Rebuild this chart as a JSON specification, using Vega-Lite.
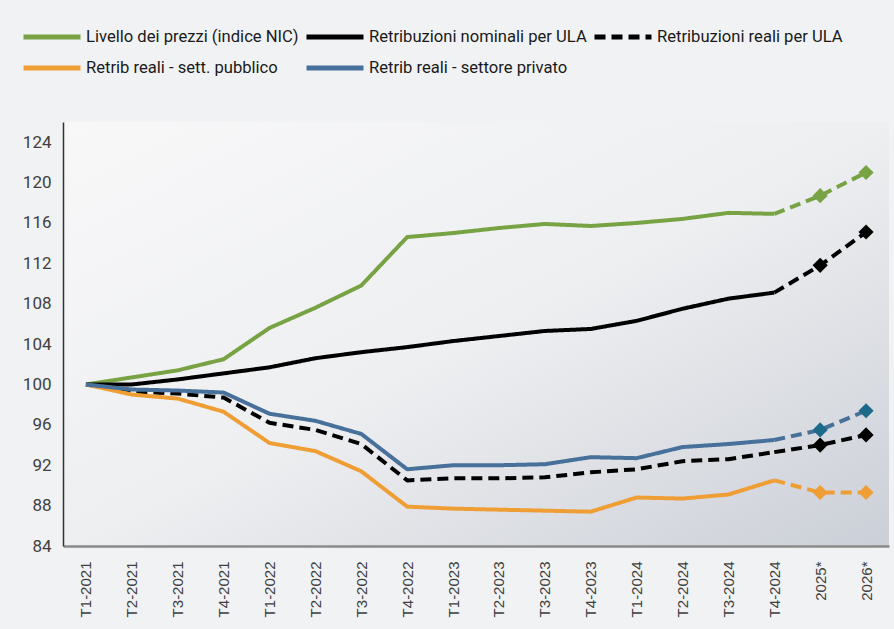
{
  "$schema": "https://vega.github.io/schema/vega-lite/v6.json",
  "width": 826,
  "height": 424,
  "autosize": {"type": "none"},
  "padding": {"left": 63, "top": 122, "right": 5, "bottom": 83},
  "background": "#f1f2f4",
  "config": {
    "view": {
      "stroke": null,
      "fill": {"gradient": "linear", "x1": 0, "y1": 0, "x2": 1, "y2": 1,
        "stops": [{"offset": 0, "color": "#f8f8f9"}, {"offset": 0.5, "color": "#eeeff1"}, {"offset": 1, "color": "#cbcfd7"}]}
    },
    "font": "Liberation Sans"
  },
  "data": {"values": [
    {"q":"T1-2021","s":"Livello dei prezzi (indice NIC)","v":100},
    {"q":"T2-2021","s":"Livello dei prezzi (indice NIC)","v":100.7},
    {"q":"T3-2021","s":"Livello dei prezzi (indice NIC)","v":101.4},
    {"q":"T4-2021","s":"Livello dei prezzi (indice NIC)","v":102.5},
    {"q":"T1-2022","s":"Livello dei prezzi (indice NIC)","v":105.6},
    {"q":"T2-2022","s":"Livello dei prezzi (indice NIC)","v":107.6},
    {"q":"T3-2022","s":"Livello dei prezzi (indice NIC)","v":109.8},
    {"q":"T4-2022","s":"Livello dei prezzi (indice NIC)","v":114.6},
    {"q":"T1-2023","s":"Livello dei prezzi (indice NIC)","v":115.0},
    {"q":"T2-2023","s":"Livello dei prezzi (indice NIC)","v":115.5},
    {"q":"T3-2023","s":"Livello dei prezzi (indice NIC)","v":115.9},
    {"q":"T4-2023","s":"Livello dei prezzi (indice NIC)","v":115.7},
    {"q":"T1-2024","s":"Livello dei prezzi (indice NIC)","v":116.0},
    {"q":"T2-2024","s":"Livello dei prezzi (indice NIC)","v":116.4},
    {"q":"T3-2024","s":"Livello dei prezzi (indice NIC)","v":117.0},
    {"q":"T4-2024","s":"Livello dei prezzi (indice NIC)","v":116.9},
    {"q":"2025*","s":"Livello dei prezzi (indice NIC)","v":118.7},
    {"q":"2026*","s":"Livello dei prezzi (indice NIC)","v":121.0},
    {"q":"T1-2021","s":"Retribuzioni nominali per ULA","v":100},
    {"q":"T2-2021","s":"Retribuzioni nominali per ULA","v":100.0},
    {"q":"T3-2021","s":"Retribuzioni nominali per ULA","v":100.5},
    {"q":"T4-2021","s":"Retribuzioni nominali per ULA","v":101.1},
    {"q":"T1-2022","s":"Retribuzioni nominali per ULA","v":101.7},
    {"q":"T2-2022","s":"Retribuzioni nominali per ULA","v":102.6},
    {"q":"T3-2022","s":"Retribuzioni nominali per ULA","v":103.2},
    {"q":"T4-2022","s":"Retribuzioni nominali per ULA","v":103.7},
    {"q":"T1-2023","s":"Retribuzioni nominali per ULA","v":104.3},
    {"q":"T2-2023","s":"Retribuzioni nominali per ULA","v":104.8},
    {"q":"T3-2023","s":"Retribuzioni nominali per ULA","v":105.3},
    {"q":"T4-2023","s":"Retribuzioni nominali per ULA","v":105.5},
    {"q":"T1-2024","s":"Retribuzioni nominali per ULA","v":106.3},
    {"q":"T2-2024","s":"Retribuzioni nominali per ULA","v":107.5},
    {"q":"T3-2024","s":"Retribuzioni nominali per ULA","v":108.5},
    {"q":"T4-2024","s":"Retribuzioni nominali per ULA","v":109.1},
    {"q":"2025*","s":"Retribuzioni nominali per ULA","v":111.8},
    {"q":"2026*","s":"Retribuzioni nominali per ULA","v":115.1},
    {"q":"T1-2021","s":"Retribuzioni reali per ULA","v":100},
    {"q":"T2-2021","s":"Retribuzioni reali per ULA","v":99.3},
    {"q":"T3-2021","s":"Retribuzioni reali per ULA","v":99.1},
    {"q":"T4-2021","s":"Retribuzioni reali per ULA","v":98.7},
    {"q":"T1-2022","s":"Retribuzioni reali per ULA","v":96.2},
    {"q":"T2-2022","s":"Retribuzioni reali per ULA","v":95.5},
    {"q":"T3-2022","s":"Retribuzioni reali per ULA","v":94.1},
    {"q":"T4-2022","s":"Retribuzioni reali per ULA","v":90.5},
    {"q":"T1-2023","s":"Retribuzioni reali per ULA","v":90.7},
    {"q":"T2-2023","s":"Retribuzioni reali per ULA","v":90.7},
    {"q":"T3-2023","s":"Retribuzioni reali per ULA","v":90.8},
    {"q":"T4-2023","s":"Retribuzioni reali per ULA","v":91.3},
    {"q":"T1-2024","s":"Retribuzioni reali per ULA","v":91.6},
    {"q":"T2-2024","s":"Retribuzioni reali per ULA","v":92.4},
    {"q":"T3-2024","s":"Retribuzioni reali per ULA","v":92.6},
    {"q":"T4-2024","s":"Retribuzioni reali per ULA","v":93.3},
    {"q":"2025*","s":"Retribuzioni reali per ULA","v":94.0},
    {"q":"2026*","s":"Retribuzioni reali per ULA","v":95.0},
    {"q":"T1-2021","s":"Retrib reali - sett. pubblico","v":100},
    {"q":"T2-2021","s":"Retrib reali - sett. pubblico","v":99.0},
    {"q":"T3-2021","s":"Retrib reali - sett. pubblico","v":98.6},
    {"q":"T4-2021","s":"Retrib reali - sett. pubblico","v":97.3},
    {"q":"T1-2022","s":"Retrib reali - sett. pubblico","v":94.2},
    {"q":"T2-2022","s":"Retrib reali - sett. pubblico","v":93.4},
    {"q":"T3-2022","s":"Retrib reali - sett. pubblico","v":91.4},
    {"q":"T4-2022","s":"Retrib reali - sett. pubblico","v":87.9},
    {"q":"T1-2023","s":"Retrib reali - sett. pubblico","v":87.7},
    {"q":"T2-2023","s":"Retrib reali - sett. pubblico","v":87.6},
    {"q":"T3-2023","s":"Retrib reali - sett. pubblico","v":87.5},
    {"q":"T4-2023","s":"Retrib reali - sett. pubblico","v":87.4},
    {"q":"T1-2024","s":"Retrib reali - sett. pubblico","v":88.8},
    {"q":"T2-2024","s":"Retrib reali - sett. pubblico","v":88.7},
    {"q":"T3-2024","s":"Retrib reali - sett. pubblico","v":89.1},
    {"q":"T4-2024","s":"Retrib reali - sett. pubblico","v":90.5},
    {"q":"2025*","s":"Retrib reali - sett. pubblico","v":89.3},
    {"q":"2026*","s":"Retrib reali - sett. pubblico","v":89.3},
    {"q":"T1-2021","s":"Retrib reali - settore privato","v":100},
    {"q":"T2-2021","s":"Retrib reali - settore privato","v":99.5},
    {"q":"T3-2021","s":"Retrib reali - settore privato","v":99.4},
    {"q":"T4-2021","s":"Retrib reali - settore privato","v":99.2},
    {"q":"T1-2022","s":"Retrib reali - settore privato","v":97.1},
    {"q":"T2-2022","s":"Retrib reali - settore privato","v":96.4},
    {"q":"T3-2022","s":"Retrib reali - settore privato","v":95.1},
    {"q":"T4-2022","s":"Retrib reali - settore privato","v":91.6},
    {"q":"T1-2023","s":"Retrib reali - settore privato","v":92.0},
    {"q":"T2-2023","s":"Retrib reali - settore privato","v":92.0},
    {"q":"T3-2023","s":"Retrib reali - settore privato","v":92.1},
    {"q":"T4-2023","s":"Retrib reali - settore privato","v":92.8},
    {"q":"T1-2024","s":"Retrib reali - settore privato","v":92.7},
    {"q":"T2-2024","s":"Retrib reali - settore privato","v":93.8},
    {"q":"T3-2024","s":"Retrib reali - settore privato","v":94.1},
    {"q":"T4-2024","s":"Retrib reali - settore privato","v":94.5},
    {"q":"2025*","s":"Retrib reali - settore privato","v":95.5},
    {"q":"2026*","s":"Retrib reali - settore privato","v":97.4}
  ]},
  "encoding": {
    "x": {
      "field": "q", "type": "nominal",
      "scale": {"type": "point", "padding": 0.5,
        "domain": ["T1-2021","T2-2021","T3-2021","T4-2021","T1-2022","T2-2022","T3-2022","T4-2022","T1-2023","T2-2023","T3-2023","T4-2023","T1-2024","T2-2024","T3-2024","T4-2024","2025*","2026*"]},
      "axis": {"title": null, "labelAngle": -90, "ticks": false, "domainColor": "#8a8a8a", "domainWidth": 2.5,
        "labelPadding": 15, "labelFontSize": 15, "labelColor": "#3f3f3f", "labelFont": "Liberation Sans", "grid": false}
    },
    "y": {
      "field": "v", "type": "quantitative",
      "scale": {"domain": [84, 126], "nice": false, "zero": false},
      "axis": {"title": null, "values": [84,88,92,96,100,104,108,112,116,120,124], "ticks": false, "grid": false,
        "domainColor": "#333333", "domainWidth": 1.5, "labelPadding": 12, "labelFontSize": 17,
        "labelColor": "#404040", "labelFont": "Roboto"}
    }
  },
  "layer": [
    {
      "transform": [{"filter": "datum.q !== '2025*' && datum.q !== '2026*'"}],
      "mark": {"type": "line", "strokeWidth": 4, "strokeJoin": "round"},
      "encoding": {
        "color": {"field": "s", "type": "nominal",
          "scale": {"domain": ["Livello dei prezzi (indice NIC)","Retribuzioni nominali per ULA","Retribuzioni reali per ULA","Retrib reali - sett. pubblico","Retrib reali - settore privato"],
            "range": ["#77a344","#000000","#000000","#ef9e35","#47709a"]},
          "legend": {"title": null, "orient": "none", "legendX": -42, "legendY": -95, "direction": "horizontal", "columns": 3,
            "symbolType": "stroke", "symbolSize": 3249, "symbolStrokeWidth": 5, "labelFontSize": 16.6, "labelFont": "Roboto",
            "labelColor": "#1a1a1a", "labelLimit": 400, "clipHeight": 20, "rowPadding": 11, "columnPadding": 5, "labelOffset": 3}
        },
        "strokeDash": {"field": "s", "type": "nominal",
          "scale": {"domain": ["Livello dei prezzi (indice NIC)","Retribuzioni nominali per ULA","Retribuzioni reali per ULA","Retrib reali - sett. pubblico","Retrib reali - settore privato"],
            "range": [[1,0],[1,0],[11,6],[1,0],[1,0]]},
          "legend": {"title": null, "orient": "none", "legendX": -42, "legendY": -95, "direction": "horizontal", "columns": 3,
            "symbolType": "stroke", "symbolSize": 3249, "symbolStrokeWidth": 5, "labelFontSize": 16.6, "labelFont": "Roboto",
            "labelColor": "#1a1a1a", "labelLimit": 400, "clipHeight": 20, "rowPadding": 11, "columnPadding": 5, "labelOffset": 3}
        }
      }
    },
    {
      "transform": [{"filter": "datum.q === 'T4-2024' || datum.q === '2025*' || datum.q === '2026*'"}],
      "mark": {"type": "line", "strokeWidth": 4, "strokeDash": [11, 6], "strokeJoin": "round"},
      "encoding": {
        "color": {"field": "s", "type": "nominal"}
      }
    },
    {
      "transform": [{"filter": "datum.q === '2025*' || datum.q === '2026*'"}],
      "mark": {"type": "point", "shape": "diamond", "filled": true, "size": 230, "opacity": 1},
      "encoding": {
        "fill": {"field": "s", "type": "nominal", "legend": null,
          "scale": {"domain": ["Livello dei prezzi (indice NIC)","Retribuzioni nominali per ULA","Retribuzioni reali per ULA","Retrib reali - sett. pubblico","Retrib reali - settore privato"],
            "range": ["#77a344","#000000","#000000","#ef9e35","#1c6a8a"]}}
      }
    }
  ]
}
